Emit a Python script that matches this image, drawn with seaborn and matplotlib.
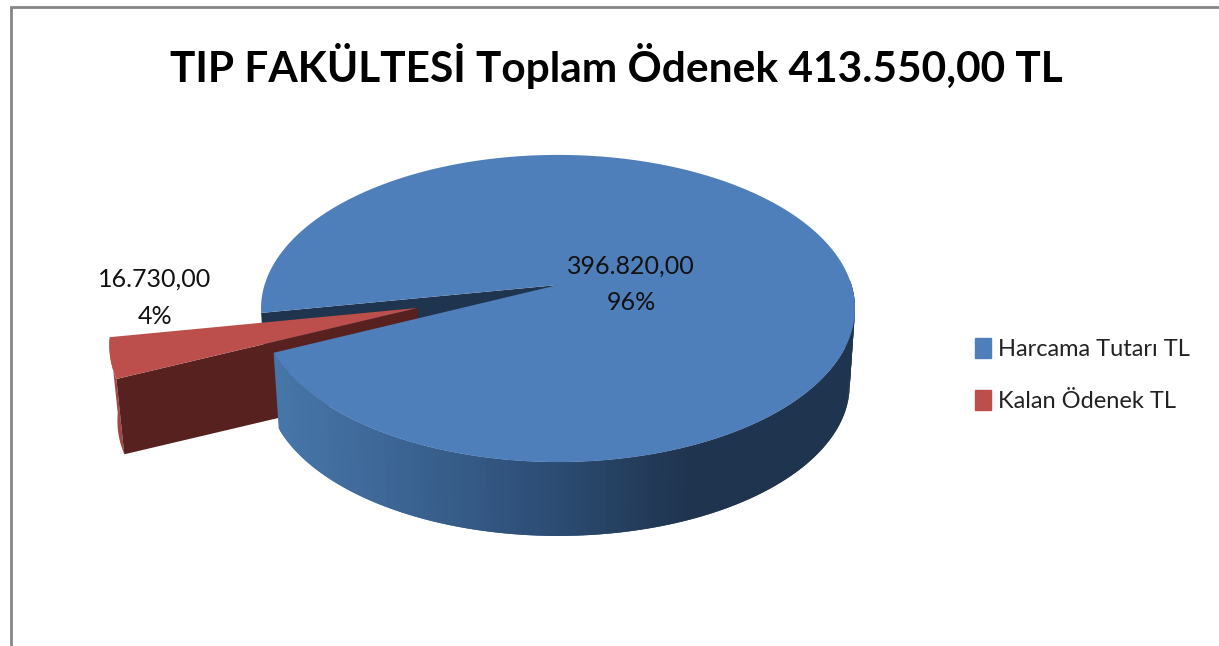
import numpy as np
import seaborn as sns
import matplotlib
matplotlib.use("Agg")
import matplotlib.pyplot as plt
from matplotlib.patches import Patch

TITLE = "TIP FAKÜLTESİ Toplam Ödenek 413.550,00 TL"
categories = ["Harcama Tutarı TL", "Kalan Ödenek TL"]
values = [396820.00, 16730.00]
value_labels = ["396.820,00", "16.730,00"]
pct_labels = ["96%", "4%"]

BLUE = "#4f7fbb"
RED = "#bc4f4c"
NAVY = "#1f344e"
DARK_RED = "#56211f"
RED_RIM = "#a34543"

# perspective of the tilted disc, in picture pixels
CX, CY = 558, 285
A, B, K = 293.5, 150.0, 0.153
DEPTH, SHRINK = 77, 0.982


def project(x, y, z=0.0):
    w = 1 + K * np.asarray(y)
    s = 1 - (1 - SHRINK) * z
    return CX + s * A * np.asarray(x) / w, CY + z * DEPTH - s * B * np.asarray(y) / w


def ring(wedge, start, stop, n=200):
    t = np.radians(np.linspace(start, stop, n))
    return wedge.center[0] + np.cos(t), wedge.center[1] + np.sin(t)


sns.set_theme(style="white")
plt.rcParams["font.family"] = ["Lato", "DejaVu Sans"]

fig = plt.figure(figsize=(12.19, 6.46), dpi=100)
ax = fig.add_axes([0, 0, 1, 1])

# the pie works out the wedge angles and the explode offset
wedges, _ = ax.pie(values, startangle=205, radius=1, explode=[0, 0.49])
for w in wedges:
    w.set_visible(False)
ax.set_aspect("auto")
ax.set_xlim(0, 1219)
ax.set_ylim(646, 0)
ax.set_axis_off()

blue, red = wedges
ramp = sns.blend_palette(["#4675a8", "#3a6290", "#2c4c74", NAVY], 64)

# inner wall seen through the gap
x1, y1 = ring(blue, blue.theta2, blue.theta2, 1)
tx, ty = project(x1, y1)
bx, by = project(x1, y1, 1)
ax.fill([CX, tx[0], bx[0], CX], [CY, ty[0], by[0], CY + DEPTH], color=NAVY, lw=0, zorder=1)

# exploded slice: rim and cut wall sit behind the big slice
x0, y0 = red.center
xs, ys = ring(red, red.theta1, red.theta2)
ax_, ay_ = project(x0, y0)
bx0, by0 = project(x0, y0, 1)
rx, ry = project(xs, ys)
bx, by = project(xs, ys, 1)
ax.fill(np.r_[rx, bx[::-1]], np.r_[ry, by[::-1]], color=RED_RIM, lw=0, zorder=1.2)
ax.fill([ax_, rx[-1], bx[-1], bx0], [ay_, ry[-1], by[-1], by0], color=DARK_RED, lw=0, zorder=1.4)

# rim of the big slice, shaded strip by strip
edges = np.arange(blue.theta1, 360 + 1.01, 1.0)
for a0, a1 in zip(edges[:-1], edges[1:]):
    xs, ys = ring(blue, a0, a1 + 1.0, 4)
    tx, ty = project(xs, ys)
    bx, by = project(xs, ys, 1)
    level = np.clip((tx.mean() - 280) / (690 - 280), 0, 1)
    ax.fill(np.r_[tx, bx[::-1]], np.r_[ty, by[::-1]], color=ramp[int(level * 63)], lw=0, zorder=2)

# top of the big slice
xs, ys = ring(blue, blue.theta1, blue.theta2)
tx, ty = project(np.r_[blue.center[0], xs], np.r_[blue.center[1], ys])
ax.fill(tx, ty, color=BLUE, lw=0, zorder=3)

# top of the exploded slice
ax.fill(np.r_[ax_, rx], np.r_[ay_, ry], color=RED, lw=0, zorder=6)

# labels
for x, y, lab, pct in [(631, 266, value_labels[0], pct_labels[0]), (155, 279, value_labels[1], pct_labels[1])]:
    ax.text(x, y, lab, ha="center", va="center", fontsize=18, color="#111111", zorder=8)
    ax.text(x, y + 37, pct, ha="center", va="center", fontsize=18, color="#111111", zorder=8)

ax.text(616, 66, TITLE, ha="center", va="center", fontsize=30.5, fontweight="bold", color="black")

handles = [Patch(color=BLUE), Patch(color=RED)]
ax.legend(handles, categories, loc="upper left", bbox_to_anchor=(975 / 1219, 1 - 338 / 646),
          frameon=False, fontsize=17, handlelength=0.68, handleheight=0.9, handletextpad=0.3,
          labelspacing=1.28, labelcolor="#222222", borderpad=0, borderaxespad=0)

# chart area border
ax.plot([1219, 11, 11], [7, 7, 646], color="#858585", lw=2, solid_joinstyle="miter")

fig.savefig("out.png", dpi=100)
